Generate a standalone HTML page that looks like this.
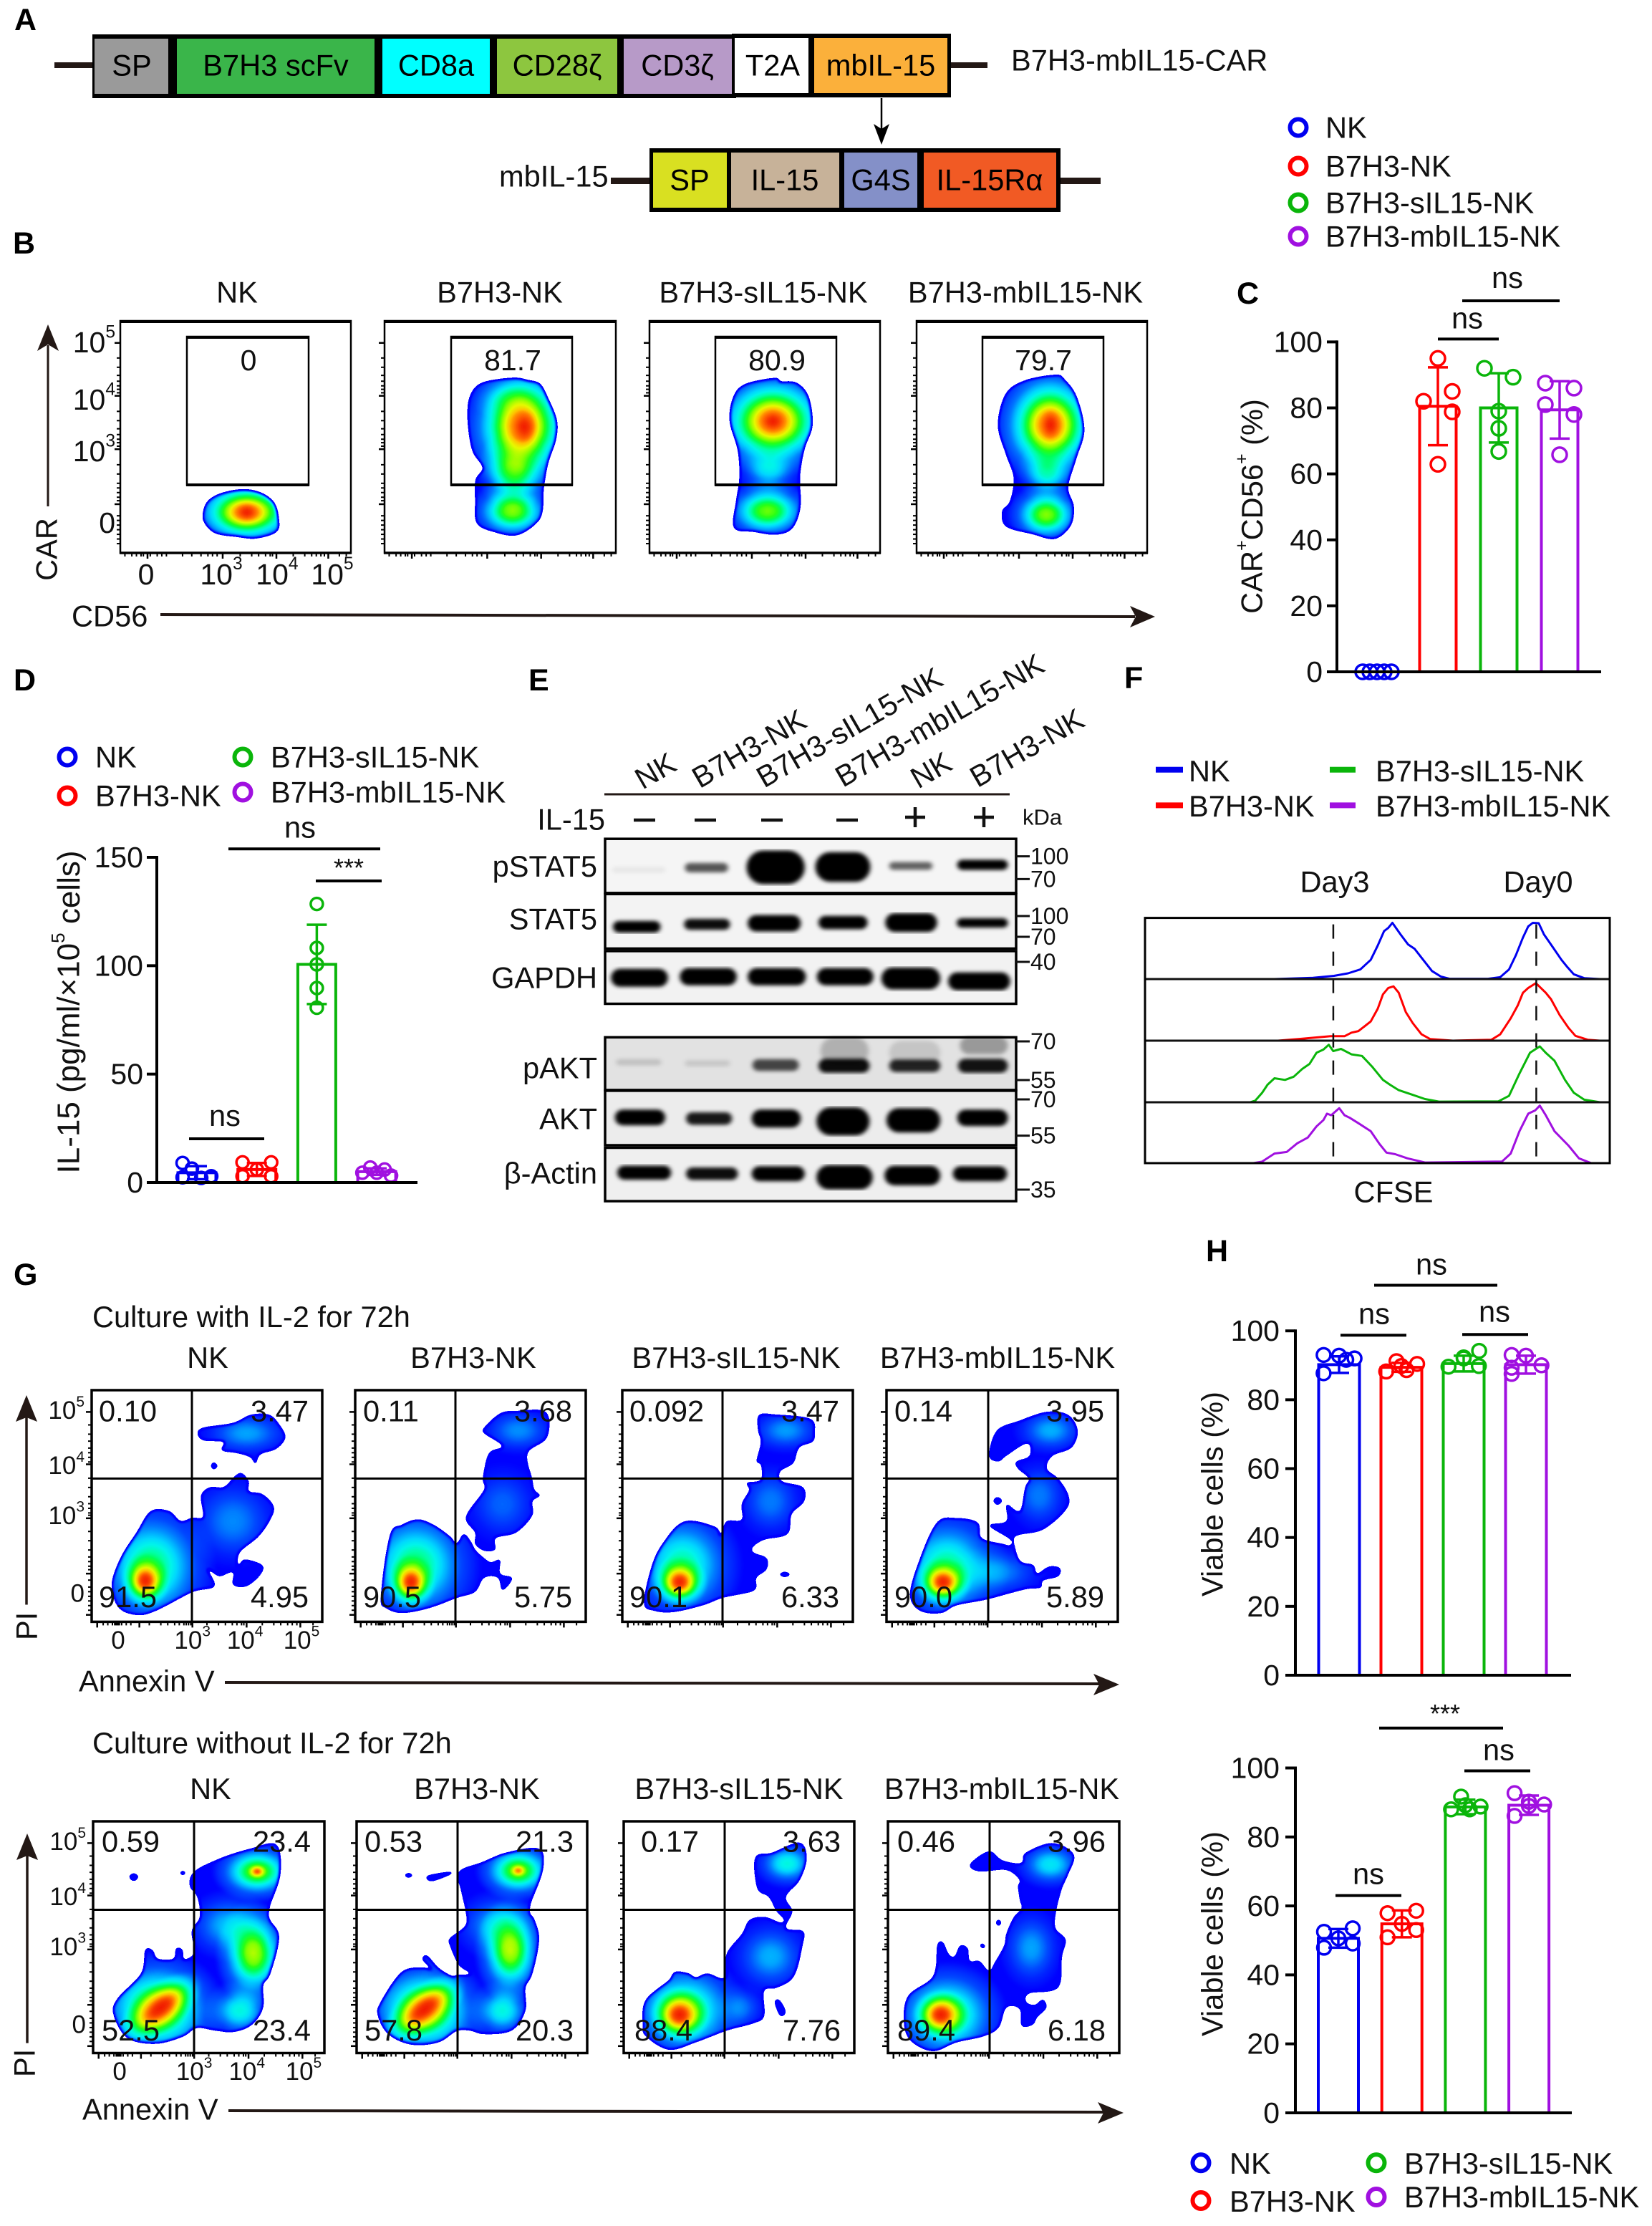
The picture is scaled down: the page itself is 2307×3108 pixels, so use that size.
<!DOCTYPE html>
<html lang="en">
<head>
<meta charset="utf-8">
<title>B7H3-mbIL15-CAR NK cell figure</title>
<style>
html,body{margin:0;padding:0;background:#fff;}
svg{display:block;font-family:"Liberation Sans","Noto Sans CJK SC",sans-serif;fill:#111;}
text{font-size:41.6px;}
.c{dominant-baseline:central;}
.m{text-anchor:middle;}
.e{text-anchor:end;}
.p{font-weight:700;font-size:43px;fill:#000;}
.seg{font-size:41.6px;fill:#000;}
.k{stroke:#000;fill:none;}
</style>
</head>
<body>
<svg id="figure" xmlns="http://www.w3.org/2000/svg" width="2307" height="3108" viewBox="0 0 2307 3108">
<defs>
  <radialGradient id="peak">
    <stop offset="0" stop-color="#000" stop-opacity="1"/>
    <stop offset="0.2" stop-color="#000" stop-opacity="0.92"/>
    <stop offset="0.35" stop-color="#000" stop-opacity="0.72"/>
    <stop offset="0.5" stop-color="#000" stop-opacity="0.48"/>
    <stop offset="0.7" stop-color="#000" stop-opacity="0.22"/>
    <stop offset="1" stop-color="#000" stop-opacity="0"/>
  </radialGradient>
  <filter id="jet" x="-10%" y="-10%" width="120%" height="120%" color-interpolation-filters="sRGB">
    <feGaussianBlur stdDeviation="2.2"/>
    <feColorMatrix type="matrix" values="0 0 0 1 0  0 0 0 1 0  0 0 0 1 0  0 0 0 1 0"/>
    <feComponentTransfer>
      <feFuncR type="table" tableValues="0 0 0 0 0 0 0 0 0 0 0 0 0 0 0 .16 .55 .9 1 1 .94"/>
      <feFuncG type="table" tableValues="0 0 0 0 0 0 0 .16 .3 .47 .67 .84 .96 1 1 1 1 .98 .75 .39 .08"/>
      <feFuncB type="table" tableValues="1 1 1 1 1 1 1 1 1 1 1 1 .92 .67 .35 .08 0 0 0 0 0"/>
      <feFuncA type="discrete" tableValues="0 0 0 1 1 1 1 1 1 1 1 1 1 1 1 1 1 1 1 1"/>
    </feComponentTransfer>
  </filter>
  <filter id="bandBlur" x="-5%" y="-5%" width="110%" height="110%">
    <feGaussianBlur stdDeviation="3.2 2.6"/>
  </filter>
</defs>

<!-- Panel letters -->
<text class="p c" x="20" y="28">A</text>
<text class="p c" x="18" y="340">B</text>
<text class="p c" x="1727" y="410">C</text>
<text class="p c" x="19" y="950">D</text>
<text class="p c" x="738" y="950">E</text>
<text class="p c" x="1570" y="947">F</text>
<text class="p c" x="19" y="1780">G</text>
<text class="p c" x="1684" y="1747">H</text>

<!-- Panel A: constructs -->
<g>
  <rect x="76" y="87" width="53" height="8" fill="#231815"/>
  <rect x="1328" y="87" width="51" height="8" fill="#231815"/>
  <rect x="129" y="48" width="899" height="89" fill="#000"/>
  <rect x="1022" y="47" width="306" height="89" fill="#000"/>
  <rect x="132" y="54" width="103" height="77" fill="#9a9a9a"/>
  <rect x="247" y="54" width="276" height="77" fill="#3ab54a"/>
  <rect x="534" y="54" width="150" height="77" fill="#00ffff"/>
  <rect x="694" y="54" width="168" height="77" fill="#8dc63f"/>
  <rect x="871" y="54" width="151" height="77" fill="#b79ac8"/>
  <rect x="1026" y="53" width="103" height="77" fill="#fff"/>
  <rect x="1137" y="53" width="186" height="77" fill="#fbb03b"/>
  <text class="seg c m" x="184" y="91">SP</text>
  <text class="seg c m" x="385" y="91">B7H3 scFv</text>
  <text class="seg c m" x="609" y="91">CD8a</text>
  <text class="seg c m" x="778" y="91">CD28ζ</text>
  <text class="seg c m" x="946" y="91">CD3ζ</text>
  <text class="seg c m" x="1079" y="91">T2A</text>
  <text class="seg c m" x="1230" y="91">mbIL-15</text>
  <text class="c" x="1412" y="84">B7H3-mbIL15-CAR</text>
  <line x1="1231" y1="137" x2="1231" y2="180" stroke="#000" stroke-width="2.5"/>
  <polygon points="1231,202 1220,173 1231,180 1242,173" fill="#000"/>
</g>
<g>
  <rect x="853" y="248" width="54" height="9" fill="#231815"/>
  <rect x="1481" y="248" width="56" height="9" fill="#231815"/>
  <rect x="907" y="207" width="574" height="89" fill="#000"/>
  <rect x="912" y="213" width="103" height="77" fill="#d9e021"/>
  <rect x="1021" y="213" width="151" height="77" fill="#c7b299"/>
  <rect x="1179" y="213" width="102" height="77" fill="#8490c8"/>
  <rect x="1290" y="213" width="185" height="77" fill="#f15a24"/>
  <text class="seg c m" x="963" y="251">SP</text>
  <text class="seg c m" x="1096" y="251">IL-15</text>
  <text class="seg c m" x="1230" y="251">G4S</text>
  <text class="seg c m" x="1382" y="251">IL-15Rα</text>
  <text class="c" x="697" y="246">mbIL-15</text>
</g>
<g fill="none">
  <circle cx="1813" cy="178" r="11.5" stroke="#0000f0" stroke-width="6" fill="none"/>
  <circle cx="1813" cy="232" r="11.5" stroke="#ff0000" stroke-width="6" fill="none"/>
  <circle cx="1813" cy="283" r="11.5" stroke="#0ab50a" stroke-width="6" fill="none"/>
  <circle cx="1813" cy="330" r="11.5" stroke="#a010e0" stroke-width="6" fill="none"/>
  <text class="c" x="1851" y="178" fill="#111">NK</text>
  <text class="c" x="1851" y="232" fill="#111">B7H3-NK</text>
  <text class="c" x="1851" y="283" fill="#111">B7H3-sIL15-NK</text>
  <text class="c" x="1851" y="330" fill="#111">B7H3-mbIL15-NK</text>
</g>

<!-- Panel B titles and axes -->
<text class="c m" x="331" y="408">NK</text>
<text class="c m" x="698" y="408">B7H3-NK</text>
<text class="c m" x="1066" y="408">B7H3-sIL15-NK</text>
<text class="c m" x="1432" y="408">B7H3-mbIL15-NK</text>
<line x1="67" y1="482" x2="67" y2="707" stroke="#231815" stroke-width="3"/>
<polygon points="67,453 82,490 67,481 52,490" fill="#231815"/>
<text class="c m" transform="translate(65 767) rotate(-90)">CAR</text>
<text class="c" x="100" y="860">CD56</text>
<line x1="224" y1="858" x2="1585" y2="861" stroke="#231815" stroke-width="4"/>
<polygon points="1613,861 1578,846 1586,861 1578,876" fill="#231815"/>

<!-- Panel C static -->
<text class="c m" transform="translate(1748 707) rotate(-90)">CAR<tspan dy="-14" style="font-size:25px">+</tspan><tspan dy="14">CD56</tspan><tspan dy="-14" style="font-size:25px">+</tspan><tspan dy="14"> (%)</tspan></text>
<line x1="2008" y1="473.4" x2="2093" y2="473.4" stroke="#000" stroke-width="4"/>
<text class="m" x="2049" y="458.5">ns</text>
<line x1="2042" y1="420" x2="2178" y2="420" stroke="#000" stroke-width="4"/>
<text class="m" x="2105" y="402">ns</text>

<!-- Panel D static -->
<g fill="none">
  <circle cx="94" cy="1057" r="11.5" stroke="#0000f0" stroke-width="6"/>
  <circle cx="94" cy="1111" r="11.5" stroke="#ff0000" stroke-width="6"/>
  <circle cx="339" cy="1057" r="11.5" stroke="#0ab50a" stroke-width="6"/>
  <circle cx="339" cy="1106" r="11.5" stroke="#a010e0" stroke-width="6"/>
  <text class="c" x="133" y="1057" fill="#111">NK</text>
  <text class="c" x="133" y="1111" fill="#111">B7H3-NK</text>
  <text class="c" x="378" y="1057" fill="#111">B7H3-sIL15-NK</text>
  <text class="c" x="378" y="1106" fill="#111">B7H3-mbIL15-NK</text>
</g>
<text class="c m" transform="translate(96 1413) rotate(-90)" style="font-size:44px">IL-15 (pg/ml/×10<tspan dy="-15" style="font-size:26px">5</tspan><tspan dy="15"> cells)</tspan></text>
<line x1="264" y1="1590" x2="369" y2="1590" stroke="#000" stroke-width="4"/>
<text class="m" x="314" y="1572">ns</text>
<line x1="319" y1="1185.3" x2="531" y2="1185.3" stroke="#000" stroke-width="4"/>
<text class="m" x="419" y="1169.4">ns</text>
<line x1="441" y1="1230" x2="533" y2="1230" stroke="#000" stroke-width="4"/>
<text class="m" x="487" y="1224" style="font-size:36px">***</text>

<!-- Panel E static -->
<g>
  <text class="c m" transform="translate(915 1076) rotate(-30)">NK</text>
  <text class="c m" transform="translate(1046 1045) rotate(-30)">B7H3-NK</text>
  <text class="c m" transform="translate(1186 1015.5) rotate(-30)">B7H3-sIL15-NK</text>
  <text class="c m" transform="translate(1312 1005.5) rotate(-30)">B7H3-mbIL15-NK</text>
  <text class="c m" transform="translate(1300 1075) rotate(-30)">NK</text>
  <text class="c m" transform="translate(1434 1044) rotate(-30)">B7H3-NK</text>
</g>
<line x1="844" y1="1109" x2="1410" y2="1109" stroke="#231815" stroke-width="3"/>
<text class="c e" x="845" y="1144">IL-15</text>
<text class="c" x="1428" y="1141" style="font-size:31px">kDa</text>
<text class="c e" x="834" y="1209.5">pSTAT5</text>
<text class="c e" x="834" y="1283">STAT5</text>
<text class="c e" x="834" y="1365">GAPDH</text>
<text class="c e" x="834" y="1491">pAKT</text>
<text class="c e" x="834" y="1562">AKT</text>
<text class="c e" x="834" y="1638">β-Actin</text>

<!-- Panel F static -->
<g>
  <rect x="1614" y="1070.7" width="38" height="8" fill="#0000f0"/>
  <rect x="1614" y="1120.4" width="38" height="8" fill="#ff0000"/>
  <rect x="1857" y="1070.7" width="36" height="8" fill="#0ab50a"/>
  <rect x="1857" y="1120.4" width="36" height="8" fill="#a010e0"/>
  <text class="c" x="1660" y="1076.6">NK</text>
  <text class="c" x="1660" y="1125.4">B7H3-NK</text>
  <text class="c" x="1921" y="1076.6">B7H3-sIL15-NK</text>
  <text class="c" x="1921" y="1125.4">B7H3-mbIL15-NK</text>
</g>
<text class="c m" x="1864" y="1231">Day3</text>
<text class="c m" x="2148" y="1231">Day0</text>
<text class="c m" x="1946" y="1664">CFSE</text>

<!-- Panel G static -->
<text class="c" x="129" y="1838.6">Culture with IL-2 for 72h</text>
<text class="c m" x="290" y="1895.3">NK</text>
<text class="c m" x="661" y="1895.3">B7H3-NK</text>
<text class="c m" x="1028" y="1895.3">B7H3-sIL15-NK</text>
<text class="c m" x="1393" y="1895.3">B7H3-mbIL15-NK</text>
<line x1="37" y1="1974" x2="37" y2="2240.5" stroke="#231815" stroke-width="3.5"/>
<polygon points="37,1948 52,1985 37,1979 22,1985" fill="#231815"/>
<text class="c m" transform="translate(37 2270.4) rotate(-90)">PI</text>
<text class="c" x="110" y="2347">Annexin V</text>
<line x1="314" y1="2349" x2="1535" y2="2351" stroke="#231815" stroke-width="4"/>
<polygon points="1563,2352 1527,2337 1535,2352 1527,2367" fill="#231815"/>

<text class="c" x="129" y="2433.7">Culture without IL-2 for 72h</text>
<text class="c m" x="294" y="2497.4">NK</text>
<text class="c m" x="666" y="2497.4">B7H3-NK</text>
<text class="c m" x="1032" y="2497.4">B7H3-sIL15-NK</text>
<text class="c m" x="1399" y="2497.4">B7H3-mbIL15-NK</text>
<line x1="38" y1="2586" x2="38" y2="2852.6" stroke="#231815" stroke-width="3.5"/>
<polygon points="38,2560 53,2597 38,2591 23,2597" fill="#231815"/>
<text class="c m" transform="translate(34 2880.4) rotate(-90)">PI</text>
<text class="c" x="115" y="2945">Annexin V</text>
<line x1="319" y1="2947" x2="1541" y2="2949" stroke="#231815" stroke-width="4"/>
<polygon points="1569,2950 1533,2935 1541,2950 1533,2965" fill="#231815"/>

<!-- Panel H static -->
<text class="c m" transform="translate(1693 2086) rotate(-90)">Viable cells (%)</text>
<line x1="1919" y1="1794.5" x2="2091" y2="1794.5" stroke="#000" stroke-width="4"/>
<text class="m" x="1999" y="1779.6">ns</text>
<line x1="1872" y1="1864.2" x2="1964" y2="1864.2" stroke="#000" stroke-width="4"/>
<text class="m" x="1919" y="1848.3">ns</text>
<line x1="2042" y1="1863.2" x2="2134" y2="1863.2" stroke="#000" stroke-width="4"/>
<text class="m" x="2087" y="1845.3">ns</text>

<text class="c m" transform="translate(1693 2700) rotate(-90)">Viable cells (%)</text>
<text class="m" x="2018" y="2404.8" style="font-size:36px">***</text>
<line x1="1926" y1="2412.8" x2="2099" y2="2412.8" stroke="#000" stroke-width="4"/>
<line x1="2045" y1="2472.5" x2="2137" y2="2472.5" stroke="#000" stroke-width="4"/>
<text class="m" x="2093" y="2457.6">ns</text>
<line x1="1865" y1="2646.6" x2="1957" y2="2646.6" stroke="#000" stroke-width="4"/>
<text class="m" x="1911" y="2630.7">ns</text>
<g fill="none">
  <circle cx="1677" cy="3019.7" r="11.5" stroke="#0000f0" stroke-width="6"/>
  <circle cx="1677" cy="3072.5" r="11.5" stroke="#ff0000" stroke-width="6"/>
  <circle cx="1922" cy="3019.7" r="11.5" stroke="#0ab50a" stroke-width="6"/>
  <circle cx="1922" cy="3067.5" r="11.5" stroke="#a010e0" stroke-width="6"/>
  <text class="c" x="1717" y="3020.7" fill="#111">NK</text>
  <text class="c" x="1717" y="3073.5" fill="#111">B7H3-NK</text>
  <text class="c" x="1961" y="3020.7" fill="#111">B7H3-sIL15-NK</text>
  <text class="c" x="1961" y="3067.5" fill="#111">B7H3-mbIL15-NK</text>
</g>

<g id="charts"></g>
</svg>

<script>
/* ---------- Shared categories ---------- */
const groupNames = ['nk', 'b7h3', 'sil15', 'mbil15'];
const groupColors = ['#0000f0', '#ff0000', '#0ab50a', '#a010e0'];

/* ---------- Panel C data ---------- */
const cTicks = [0, 20, 40, 60, 80, 100];
const cMeans = [0, 80.5, 80, 79.4];
const cSds = [0, 11.8, 10.5, 8.7];
const cPoints = [[0, 0, 0, 0, 0], [95, 85, 82, 78.8, 62.9], [92, 89.3, 79, 73.8, 66.8], [87.5, 86, 81, 78, 65.8]];
const cSwarm = [[-1, -0.5, 0, 0.5, 1], [0, 1, -1, 1, 0], [-1, 1, 0, 0, 0], [-1, 1, -1, 1, 0]];

/* ---------- Panel D data ---------- */
const dTicks = [0, 50, 100, 150];
const dMeans = [4.5, 6, 100.6, 5];
const dSds = [3, 3, 18.3, 1.5];
const dPoints = [[9, 6.4, 2.4, 2.1, 2.9], [9.3, 9.3, 6, 2.9, 2.9], [128.5, 108.2, 100.6, 89.7, 80.6], [4.5, 6.9, 4.5, 6, 3.2]];
const dSwarm = [[-1, -0.35, -1, 0.3, 1], [-1, 1, 0, -1, 1], [0, 0, 0, 0, 0], [-1, -0.45, 0, 0.55, 1]];

/* ---------- Panel H data ---------- */
const hTicks = [0, 20, 40, 60, 80, 100];
const hTopMeans = [90.2, 89.4, 90.5, 90.2];
const hTopSds = [2.4, 1.3, 2.3, 2.6];
const hTopPoints = [[93, 92.8, 92, 91.6, 87.7], [88.2, 91.2, 90.4, 88.6, 89.8], [89.6, 92.3, 94.2, 89.8, 92], [93, 92.8, 90, 87.5, 89.3]];
const hTopSwarm = [[-1.08, 0, 1.08, 0.5, -1.08], [-1.06, -0.34, 1.1, 0.36, 0], [-1.06, 0, 1.08, 1.06, 0], [-1, 0, 1.08, -1, -1]];
const hBottomMeans = [50.6, 54.8, 88.7, 89.2];
const hBottomSds = [2.7, 3.9, 2.1, 2.8];
const hBottomPoints = [[52.5, 53.5, 47.9, 49.1, 50.6], [57.9, 58.6, 53, 50.9, 54.8], [91.7, 88, 88.8, 88, 89.2], [92.7, 90.2, 89.4, 86.1, 89]];
const hBottomSwarm = [[-1, 1, -1, 1, 0], [-1, 1, 1, -1, 0], [-0.3, -1, 1.06, 0.3, 0], [-1, 0, 1.06, -1, 0]];

/* ---------- Panel E data: band lane start, lane end, centre row, thickness, intensity ---------- */
const minusLanes = [900, 985, 1078, 1183];
const plusLanes = [1278, 1374];
const kdaLabels = ['100', '70', '100', '70', '40', '70', '55', '70', '55', '35'];
const kdaRows = [1195.6, 1227.4, 1279, 1308, 1343, 1454, 1508, 1535, 1585.6, 1661];
const pstat5Bands = [[355, 490, 592, 14, 0.06], [540, 650, 586, 24, 0.65], [697, 845, 585, 86, 1], [872, 1012, 584, 76, 1], [1060, 1170, 581, 20, 0.6], [1233, 1362, 578, 26, 1]];
const stat5Bands = [[357, 478, 752, 30, 1], [538, 655, 745, 28, 0.95], [700, 835, 742, 42, 1], [880, 1005, 740, 34, 1], [1050, 1182, 740, 48, 1], [1232, 1362, 741, 24, 1]];
const gapdhBands = [[352, 497, 895, 46, 1], [527, 672, 892, 44, 1], [700, 848, 892, 44, 1], [876, 1020, 892, 44, 1], [1040, 1190, 897, 56, 1], [1210, 1368, 905, 46, 1]];
const paktSmears = [[885, 1008, 1100, 70, 0.22], [1060, 1190, 1105, 60, 0.13], [1240, 1362, 1085, 45, 0.32]];
const paktBands = [[365, 480, 1132, 16, 0.15], [540, 655, 1135, 16, 0.12], [712, 830, 1140, 30, 0.7], [880, 1010, 1142, 36, 0.95], [1060, 1190, 1142, 32, 0.85], [1235, 1362, 1142, 36, 0.92]];
const aktBands = [[362, 490, 1287, 40, 1], [543, 660, 1290, 32, 0.9], [710, 835, 1290, 46, 1], [875, 1010, 1298, 72, 1], [1053, 1190, 1295, 62, 1], [1233, 1362, 1288, 42, 1]];
const actinBands = [[368, 505, 1442, 36, 1], [543, 675, 1445, 32, 0.95], [710, 845, 1445, 38, 1], [875, 1018, 1455, 62, 1], [1048, 1190, 1450, 50, 1], [1222, 1360, 1445, 38, 1]];

/* ---------- Panel F data: CFSE channel, event count ---------- */
const fNkCfse = [120, 490, 600, 660, 700, 735, 765, 785, 803, 815, 827, 850, 872, 890, 915, 940, 965, 990, 1100, 1135, 1160, 1180, 1200, 1215, 1228, 1245, 1260, 1285, 1310, 1325, 1345, 1375, 1420, 1450];
const fNkCount = [0, 0, 4, 10, 18, 30, 60, 105, 150, 160, 176, 140, 108, 95, 60, 25, 8, 1, 1, 6, 30, 75, 130, 165, 176, 175, 140, 100, 60, 40, 15, 3, 0, 0];
const fB7h3Cfse = [130, 500, 570, 650, 690, 710, 730, 765, 785, 800, 815, 830, 845, 865, 885, 910, 935, 1000, 1110, 1135, 1165, 1185, 1200, 1215, 1237, 1265, 1280, 1305, 1330, 1350, 1385, 1420, 1450];
const fB7h3Count = [0, 0, 6, 14, 14, 25, 30, 60, 100, 145, 165, 170, 150, 90, 55, 20, 5, 0, 3, 20, 70, 110, 150, 165, 180, 150, 130, 80, 40, 15, 3, 0, 0];
const fSilCfse = [130, 420, 435, 455, 470, 490, 520, 545, 570, 590, 610, 630, 645, 658, 680, 710, 740, 770, 800, 820, 845, 880, 920, 960, 1130, 1160, 1190, 1220, 1248, 1265, 1290, 1320, 1345, 1375, 1420, 1450];
const fSilCount = [0, 0, 5, 30, 55, 75, 70, 80, 105, 120, 155, 165, 180, 160, 167, 150, 145, 110, 70, 55, 38, 25, 10, 2, 3, 20, 90, 155, 175, 155, 130, 70, 30, 8, 0, 0];
const fMbCfse = [430, 455, 490, 525, 555, 585, 610, 630, 640, 652, 675, 690, 705, 730, 765, 790, 810, 835, 870, 920, 1140, 1165, 1190, 1215, 1235, 1248, 1265, 1290, 1330, 1360, 1395, 1450];
const fMbCount = [0, 5, 30, 35, 62, 80, 115, 135, 155, 150, 172, 150, 142, 125, 100, 60, 33, 28, 15, 2, 5, 30, 100, 155, 165, 180, 150, 100, 55, 15, 0, 0];

/* ---------- Flow axes (log-display fractions) ---------- */
const bXMajor = [0.118, 0.444, 0.677, 0.902];
const bXMinor = [0.02, 0.05, 0.07, 0.09, 0.10, 0.13, 0.16, 0.18, 0.2, 0.27, 0.31, 0.35, 0.38, 0.40, 0.42, 0.52, 0.57, 0.6, 0.63, 0.65, 0.66, 0.75, 0.8, 0.83, 0.85, 0.87, 0.885, 0.95, 0.98];
const bYMajor = [0.095, 0.323, 0.553, 0.79];
const bYMinor = [0.16, 0.2, 0.235, 0.26, 0.28, 0.295, 0.31, 0.39, 0.43, 0.465, 0.49, 0.51, 0.525, 0.54, 0.62, 0.66, 0.70, 0.72, 0.74, 0.76, 0.775, 0.84, 0.86, 0.88, 0.9, 0.92, 0.94, 0.96];
const gXMajor = [0.024, 0.207, 0.437, 0.672, 0.905];
const gXMinor = [0.05, 0.07, 0.09, 0.1, 0.105, 0.11, 0.115, 0.12, 0.13, 0.15, 0.17, 0.25, 0.3, 0.33, 0.36, 0.38, 0.4, 0.41, 0.42, 0.43, 0.5, 0.55, 0.58, 0.61, 0.63, 0.65, 0.66, 0.74, 0.79, 0.82, 0.85, 0.87, 0.89, 0.96];
const gYMajor = [0.094, 0.32, 0.553, 0.792, 0.97];
const gYMinor = [0.15, 0.19, 0.22, 0.25, 0.27, 0.29, 0.31, 0.38, 0.42, 0.46, 0.49, 0.51, 0.53, 0.54, 0.61, 0.65, 0.69, 0.72, 0.74, 0.76, 0.775, 0.82, 0.85, 0.87, 0.89, 0.91, 0.93, 0.95];
const logExponents = ['', '3', '4', '5'];
const logExponentsDesc = ['5', '4', '3', ''];
const bXLabelFrac = [0.112, 0.438, 0.68, 0.919];
const bYLabelFrac = [0.093, 0.34, 0.562, 0.87];
const gXLabelFrac = [0.115, 0.437, 0.665, 0.91];
const gYLabelFrac = [0.088, 0.326, 0.542, 0.878];

/* ---------- Panel B density data: contour + peaks [x, y, rx, ry, deg, density] ---------- */
const bGateValues = ['0', '81.7', '80.9', '79.7'];
const b1Contours = [[[262, 1010], [268, 960], [285, 928], [312, 912], [335, 925], [352, 965], [358, 1030], [356, 1085], [330, 1112], [305, 1105], [278, 1092], [264, 1050]]];
const b1Peaks = [[318, 1005, 80, 160, 0, 0.95], [318, 1005, 18, 45, 0, 0.85]];
const b2Contours = [[[660, 445], [620, 465], [605, 520], [602, 600], [605, 700], [610, 760], [622, 820], [612, 870], [612, 960], [614, 1050], [635, 1085], [665, 1100], [690, 1050], [698, 1000], [700, 900], [705, 800], [715, 700], [716, 620], [705, 530], [695, 470], [680, 455]]];
const b2Peaks = [[672, 645, 78, 290, 0, 0.95], [676, 650, 18, 85, 0, 0.85], [660, 1000, 58, 135, 0, 0.72], [662, 830, 50, 170, 0, 0.6], [660, 530, 55, 100, 0, 0.25]];
const b3Contours = [[[998, 445], [960, 470], [945, 520], [940, 620], [950, 740], [952, 850], [948, 960], [945, 1070], [970, 1085], [1000, 1097], [1020, 1070], [1030, 980], [1030, 850], [1035, 740], [1045, 640], [1040, 520], [1025, 465], [1005, 460]]];
const b3Peaks = [[995, 625, 88, 240, 0, 0.95], [995, 625, 20, 55, 0, 0.85], [988, 1000, 62, 135, 0, 0.7], [990, 830, 45, 125, 0, 0.35]];
const b4Contours = [[[1360, 432], [1320, 455], [1295, 510], [1285, 640], [1295, 760], [1305, 860], [1300, 960], [1290, 1000], [1295, 1065], [1330, 1095], [1358, 1115], [1378, 1060], [1382, 980], [1375, 900], [1385, 780], [1395, 660], [1385, 520], [1370, 450]]];
const b4Peaks = [[1352, 640, 75, 270, 0, 0.95], [1353, 640, 15, 75, 0, 0.85], [1347, 1015, 52, 135, 0, 0.72], [1348, 840, 40, 135, 0, 0.4]];

/* ---------- Panel G density data ---------- */
const gRow1Values = [['0.10', '3.47', '91.5', '4.95'], ['0.11', '3.68', '90.5', '5.75'], ['0.092', '3.47', '90.1', '6.33'], ['0.14', '3.95', '90.0', '5.89']];
const gRow2Values = [['0.59', '23.4', '52.5', '23.4'], ['0.53', '21.3', '57.8', '20.3'], ['0.17', '3.63', '88.4', '7.76'], ['0.46', '3.96', '89.4', '6.18']];

const g11Contours = [
  [[245, 1145], [265, 1050], [300, 960], [330, 885], [370, 885], [395, 920], [421, 908], [445, 905], [440, 830], [460, 800], [490, 800], [515, 760], [530, 750], [545, 780], [545, 815], [575, 825], [600, 870], [590, 920], [565, 975], [525, 1030], [522, 1080], [535, 1055], [575, 1075], [570, 1110], [540, 1150], [510, 1145], [510, 1100], [480, 1115], [455, 1090], [470, 1150], [420, 1170], [340, 1235], [300, 1250], [260, 1225]],
  [[432, 610], [445, 590], [510, 575], [550, 545], [590, 545], [612, 580], [625, 625], [605, 665], [570, 685], [560, 720], [548, 695], [520, 680], [485, 670], [490, 640], [445, 635]],
  [[461, 725], [468, 711], [477, 725], [468, 739]]
];
const g11Peaks = [[318, 1130, 55, 100, 0, 1], [330, 1080, 145, 250, 0, 0.55], [510, 920, 110, 170, 0, 0.24], [540, 610, 110, 90, 0, 0.28]];
const g12Contours = [
  [[835, 1190], [855, 970], [880, 935], [915, 915], [950, 935], [985, 975], [1000, 1000], [1015, 965], [1030, 990], [1040, 1020], [1060, 1050], [1075, 1065], [1095, 1055], [1095, 1105], [1122, 1120], [1100, 1165], [1090, 1120], [1060, 1120], [1040, 1170], [1000, 1190], [940, 1225], [880, 1243], [845, 1225]],
  [[1020, 905], [1060, 810], [1057, 770], [1070, 680], [1100, 655], [1060, 610], [1060, 590], [1095, 540], [1130, 532], [1195, 535], [1197, 625], [1155, 680], [1165, 770], [1170, 810], [1183, 830], [1165, 850], [1165, 900], [1130, 960], [1085, 980], [1085, 1020], [1060, 1025], [1040, 1000], [1040, 960]]
];
const g12Peaks = [[900, 1135, 55, 100, 0, 1], [910, 1075, 145, 235, 0, 0.55], [1135, 600, 90, 90, 0, 0.25], [1100, 860, 90, 150, 0, 0.18]];
const g13Contours = [
  [[185, 1210], [205, 1085], [235, 1000], [290, 922], [370, 940], [385, 970], [400, 920], [440, 915], [440, 860], [460, 810], [452, 785], [490, 775], [490, 720], [478, 710], [490, 640], [483, 600], [485, 545], [530, 545], [620, 560], [630, 610], [625, 640], [590, 660], [575, 715], [540, 745], [545, 780], [600, 800], [603, 850], [570, 895], [560, 965], [500, 985], [470, 1010], [470, 1030], [505, 1050], [505, 1090], [478, 1120], [472, 1165], [390, 1190], [340, 1215], [260, 1240], [210, 1235]],
  [[537, 1108], [552, 1098], [568, 1108], [552, 1118]]
];
const g13Peaks = [[278, 1135, 75, 95, 0, 1], [285, 1075, 160, 225, 0, 0.5], [555, 600, 105, 85, 0, 0.27], [515, 850, 95, 140, 0, 0.22]];
const g14Contours = [
  [[880, 1180], [905, 1060], [950, 925], [1000, 910], [1055, 925], [1065, 980], [1120, 1000], [1140, 1005], [1140, 985], [1085, 935], [1130, 920], [1130, 860], [1165, 885], [1180, 800], [1190, 770], [1160, 735], [1155, 710], [1190, 690], [1185, 645], [1130, 690], [1110, 710], [1085, 690], [1105, 600], [1165, 565], [1235, 535], [1290, 545], [1315, 600], [1300, 660], [1250, 690], [1235, 735], [1265, 770], [1292, 830], [1285, 880], [1225, 950], [1160, 970], [1150, 990], [1165, 1060], [1200, 1075], [1210, 1105], [1240, 1080], [1270, 1085], [1265, 1115], [1225, 1130], [1220, 1155], [1180, 1160], [1080, 1195], [1000, 1215], [960, 1243], [905, 1235]],
  [[1095, 848], [1107, 834], [1120, 848], [1107, 864]]
];
const g14Peaks = [[965, 1135, 75, 90, 0, 1], [975, 1085, 165, 225, 0, 0.52], [1245, 600, 100, 90, 0, 0.3], [1215, 830, 85, 135, 0, 0.22], [1110, 1100, 130, 100, 0, 0.24]];

const g21Contours = [
  [[250, 1095], [258, 1040], [310, 950], [318, 865], [335, 868], [345, 898], [380, 898], [385, 860], [400, 865], [403, 900], [425, 875], [420, 800], [438, 750], [432, 680], [415, 640], [425, 590], [480, 545], [550, 510], [605, 495], [612, 600], [590, 720], [590, 760], [610, 820], [590, 950], [575, 990], [575, 1070], [550, 1130], [510, 1155], [470, 1150], [430, 1140], [400, 1170], [340, 1195], [280, 1175]],
  [[282, 608], [293, 595], [304, 608], [293, 625]],
  [[393, 595], [400, 586], [408, 595], [400, 604]]
];
const g21Peaks = [[352, 1070, 110, 85, -38, 1], [345, 1075, 150, 210, 0, 0.7], [555, 880, 85, 190, 0, 0.75], [563, 590, 100, 110, 0, 0.7], [563, 590, 22, 26, 0, 0.95], [525, 1080, 80, 110, 0, 0.45], [500, 780, 100, 130, 0, 0.32]];
const g22Contours = [
  [[828, 1095], [835, 1050], [880, 945], [925, 930], [945, 935], [925, 900], [935, 885], [960, 930], [990, 960], [1002, 955], [1030, 950], [1005, 920], [985, 850], [985, 825], [1020, 780], [1020, 730], [1010, 660], [1005, 590], [1060, 555], [1110, 525], [1180, 510], [1188, 580], [1160, 720], [1170, 760], [1180, 830], [1165, 950], [1150, 1000], [1150, 1080], [1120, 1150], [1060, 1163], [1030, 1150], [1000, 1150], [960, 1190], [900, 1198], [850, 1160]],
  [[885, 603], [895, 594], [905, 603], [895, 613]],
  [[935, 605], [985, 590], [988, 600], [945, 625]]
];
const g22Peaks = [[930, 1075, 110, 85, -38, 1], [930, 1080, 145, 200, 0, 0.7], [1118, 870, 80, 190, 0, 0.75], [1135, 587, 95, 110, 0, 0.7], [1135, 587, 20, 24, 0, 0.85], [1100, 1080, 75, 110, 0, 0.45], [1090, 780, 100, 130, 0, 0.32]];
const g23Contours = [
  [[183, 1130], [190, 1045], [250, 975], [265, 945], [300, 950], [320, 965], [350, 950], [395, 965], [400, 880], [440, 810], [460, 760], [500, 750], [540, 770], [550, 760], [530, 730], [510, 680], [480, 650], [475, 540], [520, 525], [590, 488], [608, 540], [590, 620], [555, 680], [572, 730], [555, 790], [600, 800], [598, 850], [575, 960], [530, 1000], [498, 1010], [498, 1100], [470, 1125], [400, 1150], [320, 1190], [250, 1217], [190, 1170]],
  [[525, 1050], [538, 1042], [555, 1085], [540, 1100]]
];
const g23Peaks = [[278, 1095, 80, 100, 0, 1], [290, 1080, 170, 200, 0, 0.58], [558, 562, 90, 90, 0, 0.45], [515, 890, 110, 140, 0, 0.3], [440, 1070, 70, 90, 0, 0.2]];
const g24Contours = [
  [[865, 1130], [875, 1030], [940, 960], [950, 850], [965, 838], [980, 880], [995, 890], [1010, 850], [1030, 860], [1035, 905], [1060, 905], [1085, 940], [1100, 910], [1125, 850], [1130, 810], [1150, 750], [1170, 720], [1165, 690], [1160, 640], [1165, 620], [1130, 585], [1060, 590], [1035, 565], [1085, 518], [1120, 550], [1170, 560], [1180, 525], [1250, 490], [1305, 530], [1290, 600], [1275, 650], [1260, 730], [1258, 790], [1285, 830], [1275, 890], [1265, 1000], [1190, 1020], [1182, 1050], [1205, 1060], [1225, 1040], [1235, 1070], [1210, 1105], [1200, 1130], [1170, 1135], [1165, 1075], [1130, 1070], [1110, 1140], [1070, 1170], [1000, 1190], [940, 1222], [885, 1190]],
  [[1102, 770], [1110, 758], [1118, 770], [1110, 784]],
  [[1060, 850], [1068, 842], [1077, 855], [1068, 862]]
];
const g24Peaks = [[960, 1095, 75, 90, 0, 1], [975, 1095, 160, 190, 0, 0.6], [1245, 565, 95, 90, 0, 0.4], [1195, 860, 85, 150, 0, 0.28]];

/* ---------- Drawing helpers ---------- */
const SVG_NS = 'http://www.w3.org/2000/svg';
const stage = document.getElementById('charts');

function mk(tag, parent, attrs) {
  const el = document.createElementNS(SVG_NS, tag);
  for (const key in attrs) el.setAttribute(key, attrs[key]);
  parent.appendChild(el);
  return el;
}
function linear(domain, range) {
  return v => range[0] + (v - domain[0]) / (domain[1] - domain[0]) * (range[1] - range[0]);
}
function group(parent, name) {
  const el = mk('g', parent, {});
  
  
  return el;
}
function stroke(parent, name, x1, y1, x2, y2, color, width) {
  const el = mk('line', parent, { x1: x1, y1: y1, x2: x2, y2: y2, stroke: color, 'stroke-width': width });
  
  
  return el;
}
function label(parent, name, content, x, y, size, anchor) {
  const el = mk('text', parent, { x: x, y: y, 'text-anchor': anchor, class: 'c' });
  el.style.fontSize = size + 'px';
  el.textContent = content;
  
  
  return el;
}
function logLabel(parent, name, exponent, x, y, size, anchor) {
  const el = label(parent, name, exponent ? '10' : '0', x, y, size, anchor);
  if (exponent) {
    const sup = mk('tspan', el, { dy: -size * 0.36 });
    sup.style.fontSize = (size * 0.6) + 'px';
    sup.textContent = exponent;
    
    
  }
  return el;
}
function smoothClosedPath(pts) {
  const n = pts.length;
  let d = 'M' + pts[0][0].toFixed(1) + ' ' + pts[0][1].toFixed(1);
  for (let i = 0; i < n; i++) {
    const p0 = pts[(i - 1 + n) % n];
    const p1 = pts[i];
    const p2 = pts[(i + 1) % n];
    const p3 = pts[(i + 2) % n];
    d += 'C' + (p1[0] + (p2[0] - p0[0]) / 6).toFixed(1) + ' ' + (p1[1] + (p2[1] - p0[1]) / 6).toFixed(1) + ' ' +
      (p2[0] - (p3[0] - p1[0]) / 6).toFixed(1) + ' ' + (p2[1] - (p3[1] - p1[1]) / 6).toFixed(1) + ' ' +
      p2[0].toFixed(1) + ' ' + p2[1].toFixed(1);
  }
  return d + 'Z';
}

/* ---------- Bar chart ---------- */
function drawBarChart(name, axisX, yZero, yTop, maxV, endX, tickLeft, labelRight, catStart, catStep, barW, capW, slotW, radius, ticks, means, sds, points, swarm) {
  const root = group(stage, name);
  const yScale = linear([0, maxV], [yZero, yTop]);
  const xScale = i => catStart + i * catStep;
  means.forEach((mean, i) => {
    const color = groupColors[i];
    const cg = group(root, name + '-' + groupNames[i]);
    const cx = xScale(i);
    if (mean > 0) {
      const bar = mk('path', cg, { d: 'M' + (cx - barW / 2) + ' ' + yZero + 'V' + yScale(mean) + 'H' + (cx + barW / 2) + 'V' + yZero, fill: 'none', stroke: color, 'stroke-width': 4 });
      
      
      const hi = yScale(mean + sds[i]);
      const lo = yScale(mean - sds[i]);
      stroke(cg, 'error-stem-' + groupNames[i], cx, hi, cx, lo, color, 3.5);
      stroke(cg, 'error-cap-high-' + groupNames[i], cx - capW / 2, hi, cx + capW / 2, hi, color, 3.5);
      stroke(cg, 'error-cap-low-' + groupNames[i], cx - capW / 2, lo, cx + capW / 2, lo, color, 3.5);
    }
    points[i].forEach((value, j) => {
      const dot = mk('circle', cg, { cx: cx + swarm[i][j] * slotW, cy: yScale(value), r: radius, fill: 'none', stroke: color, 'stroke-width': 3.5 });
      
      
    });
  });
  stroke(root, 'y-axis', axisX, yTop - 2, axisX, yZero + 2, '#000', 4);
  stroke(root, 'x-axis', tickLeft, yZero, endX, yZero, '#000', 4);
  ticks.forEach(tick => {
    const y = yScale(tick);
    stroke(root, 'y-tick', tickLeft, y, axisX, y, '#000', 4);
    label(root, 'y-tick-label', String(tick), labelRight, y, 41, 'end');
  });
}

/* ---------- Blots ---------- */
const blotX = linear([337, 1383], [845, 1419]);
const blotY = linear([505, 1522], [1171.2, 1677.1]);
function drawBlot(name, top, bottom, background, layers) {
  const root = group(stage, 'blot-' + name);
  const bg = mk('rect', root, { x: 845, y: blotY(top), width: 574, height: blotY(bottom) - blotY(top), fill: background });
  
  
  const bandGroup = group(root, 'blot-bands');
  bandGroup.setAttribute('filter', 'url(#bandBlur)');
  layers.forEach(bands => bands.forEach(b => {
    const thick = b[3] * 1.1;
    const h = blotY(b[2] + thick / 2) - blotY(b[2] - thick / 2);
    const band = mk('rect', bandGroup, { x: blotX(b[0]), y: blotY(b[2] - thick / 2), width: blotX(b[1]) - blotX(b[0]), height: h, rx: h / 2, ry: h / 2, fill: '#000', 'fill-opacity': b[4] });
    
    
  }));
  const frame = mk('rect', root, { x: 845, y: blotY(top), width: 574, height: blotY(bottom) - blotY(top), fill: 'none', stroke: '#000', 'stroke-width': 3.5 });
  
  
}

/* ---------- Flow plots ---------- */
let clipCounter = 0;
function drawDensity(parent, name, rect, domX, domY, contours, peaks) {
  const xS = linear(domX, [rect.l, rect.r]);
  const yS = linear(domY, [rect.t, rect.b]);
  const d = contours.map(poly => smoothClosedPath(poly.map(p => [xS(p[0]), yS(p[1])]))).join('');
  const density = group(parent, name + '-density');
  density.setAttribute('filter', 'url(#jet)');
  const outline = mk('path', density, { d: d, fill: '#000', 'fill-opacity': 0.3 });
  
  
  clipCounter += 1;
  const clipId = 'flowClip' + clipCounter;
  const clip = mk('clipPath', density, { id: clipId });
  mk('path', clip, { d: d });
  const peakGroup = group(density, name + '-peaks');
  peakGroup.setAttribute('clip-path', 'url(#' + clipId + ')');
  peaks.forEach(pk => {
    const cx = xS(pk[0]);
    const cy = yS(pk[1]);
    const rx = Math.abs(xS(pk[0] + pk[2]) - cx);
    const ry = Math.abs(yS(pk[1] + pk[3]) - cy);
    const el = mk('ellipse', peakGroup, { cx: cx, cy: cy, rx: rx, ry: ry, fill: 'url(#peak)', opacity: pk[5], transform: 'rotate(' + pk[4] + ' ' + cx + ' ' + cy + ')' });
    
    
  });
}
function drawFlowTicks(parent, rect, xMajor, xMinor, yMajor, yMinor, majorLen, minorLen) {
  const w = rect.r - rect.l;
  const h = rect.b - rect.t;
  xMajor.forEach(f => stroke(parent, 'x-major-tick', rect.l + f * w, rect.b, rect.l + f * w, rect.b + majorLen, '#000', 2.5));
  xMinor.forEach(f => stroke(parent, 'x-minor-tick', rect.l + f * w, rect.b, rect.l + f * w, rect.b + minorLen, '#000', 2));
  yMajor.forEach(f => stroke(parent, 'y-major-tick', rect.l - majorLen, rect.t + f * h, rect.l, rect.t + f * h, '#000', 2.5));
  yMinor.forEach(f => stroke(parent, 'y-minor-tick', rect.l - minorLen, rect.t + f * h, rect.l, rect.t + f * h, '#000', 2));
}
function frameRect(parent, name, x, y, w, h, sw) {
  const el = mk('rect', parent, { x: x, y: y, width: w, height: h, fill: 'none', stroke: '#000', 'stroke-width': sw });
  
  
  return el;
}
function drawGatePlot(name, rect, gateL, gateR, gateT, gateB, domX, contours, peaks, value, valueX, labelled) {
  const root = group(stage, name);
  drawDensity(root, name, rect, domX, [205, 1175], contours, peaks);
  drawFlowTicks(root, rect, bXMajor, bXMinor, bYMajor, bYMinor, 8, 5);
  frameRect(root, 'plot-frame', rect.l, rect.t, rect.r - rect.l, rect.b - rect.t, 2.5);
  stroke(root, 'plot-top-edge', rect.l - 1, rect.t + 1, rect.r + 1, rect.t + 1, '#000', 4);
  stroke(root, 'plot-bottom-edge', rect.l - 1, rect.b, rect.r + 1, rect.b, '#000', 3.5);
  frameRect(root, 'car-gate', gateL, gateT, gateR - gateL, gateB - gateT, 2.5);
  stroke(root, 'car-gate-top-edge', gateL - 1, gateT + 1, gateR + 1, gateT + 1, '#000', 4);
  stroke(root, 'car-gate-bottom-edge', gateL - 1, gateB, gateR + 1, gateB, '#000', 4);
  label(root, 'gate-percentage', value, valueX, 503, 41, 'middle');
  if (labelled) {
    const w = rect.r - rect.l;
    const h = rect.b - rect.t;
    logExponents.forEach((exp, i) => logLabel(root, 'x-tick-label', exp, rect.l + bXLabelFrac[i] * w, 802, 41, 'middle'));
    logExponentsDesc.forEach((exp, i) => logLabel(root, 'y-tick-label', exp, rect.l - 7, rect.t + bYLabelFrac[i] * h, 41, 'end'));
  }
}
function drawQuadPlot(name, rect, vLine, hLine, domX, domY, contours, peaks, values, topY, bottomY, ulLeft, llLeft, labelled, labelY) {
  const root = group(stage, name);
  drawDensity(root, name, rect, domX, domY, contours, peaks);
  drawFlowTicks(root, rect, gXMajor, gXMinor, gYMajor, gYMinor, 8, 5);
  frameRect(root, 'plot-frame', rect.l, rect.t, rect.r - rect.l, rect.b - rect.t, 3.5);
  stroke(root, 'annexin-gate-line', vLine, rect.t, vLine, rect.b, '#000', 3);
  stroke(root, 'pi-gate-line', rect.l, hLine, rect.r, hLine, '#000', 3);
  label(root, 'upper-left-percentage', values[0], ulLeft, topY, 41.6, 'start');
  label(root, 'upper-right-percentage', values[1], rect.r - 19, topY, 41.6, 'end');
  label(root, 'lower-left-percentage', values[2], llLeft, bottomY, 41.6, 'start');
  label(root, 'lower-right-percentage', values[3], rect.r - 19, bottomY, 41.6, 'end');
  if (labelled) {
    const w = rect.r - rect.l;
    const h = rect.b - rect.t;
    logExponents.forEach((exp, i) => logLabel(root, 'x-tick-label', exp, rect.l + gXLabelFrac[i] * w, labelY, 35, 'middle'));
    logExponentsDesc.forEach((exp, i) => logLabel(root, 'y-tick-label', exp, rect.l - 10, rect.t + gYLabelFrac[i] * h, 35, 'end'));
  }
}

/* ---------- Histogram ---------- */
const fX = linear([120, 1450], [1599, 2249]);
const fCount = linear([0, 100], [0, 44.6]);
function drawTrace(parent, name, color, baseY, cfse, counts) {
  const pts = cfse.map((c, i) => fX(c).toFixed(1) + ',' + (baseY - fCount(counts[i])).toFixed(1)).join(' ');
  const el = mk('polyline', parent, { points: pts, fill: 'none', stroke: color, 'stroke-width': 3, 'stroke-linejoin': 'round' });
  
  
}

/* ---------- Render everything ---------- */
drawBarChart('c-bar-chart', 1867, 938, 477.4, 100, 2236, 1853, 1847, 1923, 85, 51, 28, 20, 10, cTicks, cMeans, cSds, cPoints, cSwarm);
drawBarChart('d-bar-chart', 219, 1651, 1197, 150, 583, 205, 200, 275, 83.7, 53, 28, 20, 8.5, dTicks, dMeans, dSds, dPoints, dSwarm);
drawBarChart('h-top-bar-chart', 1809, 2339, 1858.2, 100, 2194, 1795, 1787, 1870, 87, 57, 28, 20, 9.5, hTicks, hTopMeans, hTopSds, hTopPoints, hTopSwarm);
drawBarChart('h-bottom-bar-chart', 1809, 2950, 2468.5, 100, 2195, 1795, 1787, 1869, 88.7, 56, 28, 20, 9.5, hTicks, hBottomMeans, hBottomSds, hBottomPoints, hBottomSwarm);

drawGatePlot('b-plot-nk', { l: 168, r: 490, t: 448, b: 772 }, 261, 431, 470, 677, [155, 452], b1Contours, b1Peaks, bGateValues[0], 347, true);
drawGatePlot('b-plot-b7h3', { l: 537, r: 860, t: 448, b: 772 }, 630, 799, 470, 677, [495, 793], b2Contours, b2Peaks, bGateValues[1], 716, false);
drawGatePlot('b-plot-sil15', { l: 907, r: 1229, t: 448, b: 772 }, 999, 1168, 470, 677, [836, 1133], b3Contours, b3Peaks, bGateValues[2], 1085, false);
drawGatePlot('b-plot-mbil15', { l: 1280, r: 1602, t: 448, b: 772 }, 1372, 1541, 470, 677, [1180, 1477], b4Contours, b4Peaks, bGateValues[3], 1457, false);

drawQuadPlot('g-row1-nk', { l: 128, r: 450, t: 1941, b: 2264.4 }, 268, 2064.4, [200, 706], [458, 1275], g11Contours, g11Peaks, gRow1Values[0], 1970, 2229.6, 138, 138, true, 2290.3);
drawQuadPlot('g-row1-b7h3', { l: 496, r: 818, t: 1941, b: 2264.4 }, 636, 2064.4, [778, 1282], [458, 1275], g12Contours, g12Peaks, gRow1Values[1], 1970, 2229.6, 507, 507, false, 2290.3);
drawQuadPlot('g-row1-sil15', { l: 869, r: 1191, t: 1941, b: 2264.4 }, 1009, 2064.4, [128, 730], [458, 1275], g13Contours, g13Peaks, gRow1Values[2], 1970, 2229.6, 879, 879, false, 2290.3);
drawQuadPlot('g-row1-mbil15', { l: 1238, r: 1561, t: 1941, b: 2264.4 }, 1380, 2064.4, [818, 1420], [458, 1275], g14Contours, g14Peaks, gRow1Values[3], 1970, 2229.6, 1249, 1249, false, 2290.3);
drawQuadPlot('g-row2-nk', { l: 130, r: 453, t: 2543, b: 2866.5 }, 271, 2666.5, [204, 710], [413, 1230], g21Contours, g21Peaks, gRow2Values[0], 2571, 2834.7, 142, 142, true, 2892.4);
drawQuadPlot('g-row2-b7h3', { l: 498, r: 820, t: 2543, b: 2866.5 }, 639, 2666.5, [781, 1286], [413, 1230], g22Contours, g22Peaks, gRow2Values[1], 2571, 2834.7, 509, 509, false, 2892.4);
drawQuadPlot('g-row2-sil15', { l: 871, r: 1193, t: 2543, b: 2866.5 }, 1012, 2666.5, [132, 733], [413, 1230], g23Contours, g23Peaks, gRow2Values[2], 2571, 2834.7, 895, 886, false, 2892.4);
drawQuadPlot('g-row2-mbil15', { l: 1240, r: 1563, t: 2543, b: 2866.5 }, 1382, 2666.5, [822, 1424], [413, 1230], g24Contours, g24Peaks, gRow2Values[3], 2571, 2834.7, 1253, 1253, false, 2892.4);

drawBlot('pstat5', 505, 657, '#f5f5f5', [pstat5Bands]);
drawBlot('stat5', 660, 813, '#f3f3f3', [stat5Bands]);
drawBlot('gapdh', 820, 968, '#f2f2f2', [gapdhBands]);
drawBlot('pakt', 1062, 1210, '#e2e2e2', [paktSmears, paktBands]);
drawBlot('akt', 1212, 1365, '#ececec', [aktBands]);
drawBlot('actin', 1372, 1522, '#efefef', [actinBands]);

const eMarks = group(stage, 'il15-treatment-row');
minusLanes.forEach(x => stroke(eMarks, 'il15-minus', x - 15, 1145, x + 15, 1145, '#111', 4.5));
plusLanes.forEach(x => {
  stroke(eMarks, 'il15-plus-horizontal', x - 14, 1141, x + 14, 1141, '#111', 4.5);
  stroke(eMarks, 'il15-plus-vertical', x, 1127, x, 1155, '#111', 4.5);
});
const kdaGroup = group(stage, 'molecular-weight-markers');
kdaLabels.forEach((kda, i) => {
  stroke(kdaGroup, 'kda-tick', 1419, kdaRows[i], 1438, kdaRows[i], '#111', 3);
  label(kdaGroup, 'kda-label', kda, 1439, kdaRows[i], 32, 'start');
});

const fRoot = group(stage, 'f-histogram');
const fRows = [1367, 1453, 1539, 1624];
drawTrace(fRoot, 'trace-nk', groupColors[0], fRows[0], fNkCfse, fNkCount);
drawTrace(fRoot, 'trace-b7h3', groupColors[1], fRows[1], fB7h3Cfse, fB7h3Count);
drawTrace(fRoot, 'trace-sil15', groupColors[2], fRows[2], fSilCfse, fSilCount);
drawTrace(fRoot, 'trace-mbil15', groupColors[3], fRows[3], fMbCfse, fMbCount);
fRows.forEach(y => stroke(fRoot, 'histogram-baseline', 1599, y, 2249, y, '#111', 3));
[658, 1238].forEach(c => {
  const guide = stroke(fRoot, 'peak-guide', fX(c), 1290.6, fX(c), 1624, '#111', 2.5);
  guide.setAttribute('stroke-dasharray', '20 18');
});
frameRect(fRoot, 'histogram-frame', 1599, 1281.6, 649, 342.4, 3);
</script>
</body>
</html>
